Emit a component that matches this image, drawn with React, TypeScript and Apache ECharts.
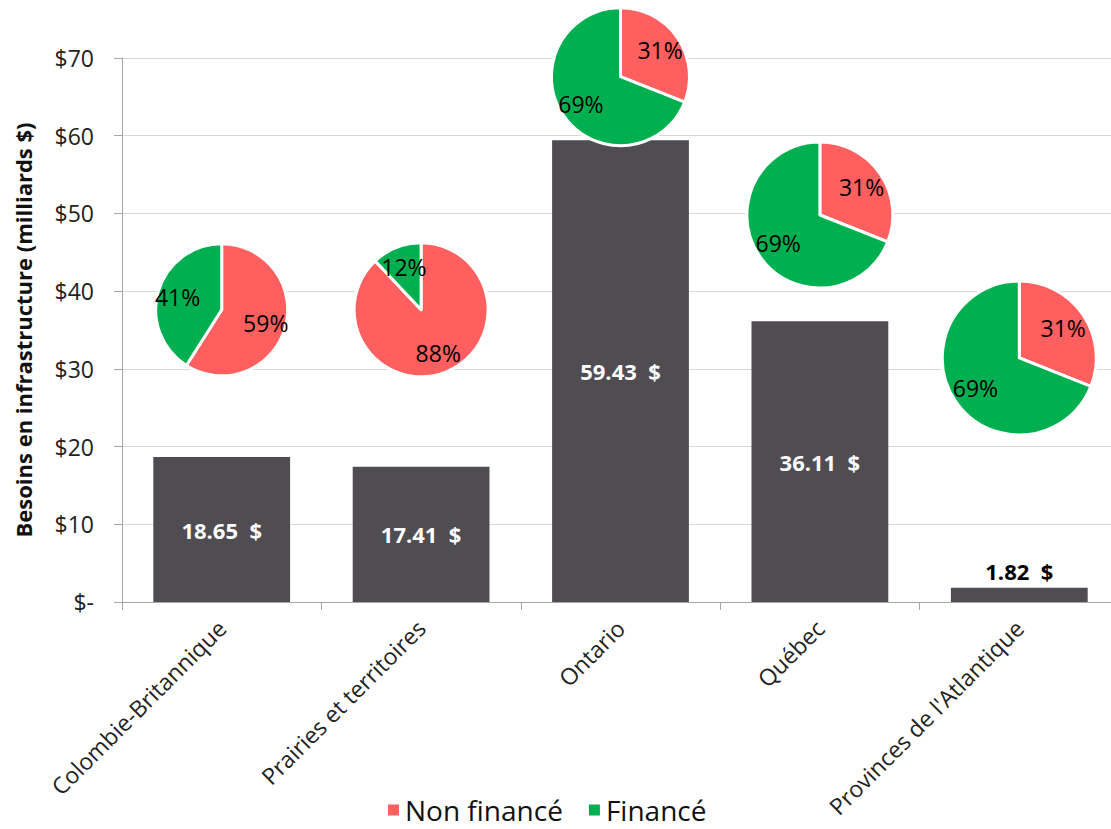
import React, { useEffect, useRef } from "react";
import * as echarts from "echarts";

const categories = [
  "Colombie-Britannique",
  "Prairies et territoires",
  "Ontario",
  "Québec",
  "Provinces de l'Atlantique",
];
const besoins = [18.65, 17.41, 59.43, 36.11, 1.82];
const nonFinance = [59, 88, 31, 31, 31];
const finance = [41, 12, 69, 69, 69];
const yTicks = [0, 10, 20, 30, 40, 50, 60, 70];

// layout only: pie centre height (in axis units) and radius (px)
const pieCenterY = [37.6, 37.6, 67.6, 49.8, 31.4];
const pieRadius = [66, 67, 69, 73, 77];

const RED = "#ff5f5f";
const GREEN = "#00b050";
const BAR = "#4f4d52";
const FONT = "'Open Sans', sans-serif";

export default function App() {
  const ref = useRef<HTMLDivElement>(null);
  useEffect(() => {
    if (!ref.current) return;
    const chart = echarts.init(ref.current, null, { renderer: "svg" });
    const base: any = {
      animation: false,
      textStyle: { fontFamily: FONT },
      grid: { left: 122, top: 58, width: 997, height: 544 },
      legend: {
        bottom: 0,
        left: 381,
        icon: "rect",
        itemWidth: 13,
        itemHeight: 13,
        itemGap: 24,
        data: ["Non financé", "Financé"],
        textStyle: { fontSize: 28, color: "#111", fontFamily: FONT },
      },
      xAxis: {
        type: "category",
        data: categories,
        axisLine: { lineStyle: { color: "#a6a6a6", width: 1 } },
        axisTick: { show: true, length: 8, lineStyle: { color: "#a6a6a6" } },
        axisLabel: {
          rotate: 45,
          margin: 22,
          fontSize: 23,
          color: "#222",
          fontFamily: FONT,
          interval: 0,
        },
      },
      yAxis: {
        type: "value",
        min: yTicks[0],
        max: yTicks[yTicks.length - 1],
        interval: 10,
        name: "Besoins en infrastructure (milliards $)",
        nameLocation: "middle",
        nameGap: 88,
        nameTextStyle: { fontSize: 22, fontWeight: "bold", color: "#111", fontFamily: FONT },
        axisLine: { show: true, lineStyle: { color: "#a6a6a6", width: 1 } },
        axisTick: { show: true, length: 8, lineStyle: { color: "#a6a6a6" } },
        axisLabel: {
          margin: 28,
          fontSize: 23,
          color: "#222",
          fontFamily: FONT,
          formatter: (v: number) => (v === 0 ? "$-" : "$" + v),
        },
        splitLine: { lineStyle: { color: "#d9d9d9", width: 1 } },
      },
      series: [
        {
          type: "bar",
          barWidth: "68.6%",
          itemStyle: { color: BAR },
          data: besoins.map((v, i) => {
            const small = i === besoins.length - 1;
            return {
              value: v,
              label: {
                show: true,
                position: small ? "top" : "inside",
                distance: 6,
                formatter: v.toFixed(2) + "  $",
                color: small ? "#000" : "#fff",
                fontWeight: "bold",
                fontSize: 22,
                fontFamily: FONT,
              },
            };
          }),
        },
      ],
    };
    chart.setOption(base);

    const pies: any[] = [];
    categories.forEach((c, i) => {
      const p = chart.convertToPixel({ gridIndex: 0 } as any, [i, pieCenterY[i]]) as number[];
      const r = pieRadius[i];
      const data = [
        { name: "Non financé", value: nonFinance[i], itemStyle: { color: RED } },
        { name: "Financé", value: finance[i], itemStyle: { color: GREEN } },
      ];
      pies.push({
        type: "pie",
        center: [p[0], p[1]],
        radius: [0, r],
        startAngle: 90,
        clockwise: true,
        z: 5,
        label: { show: false },
        labelLine: { show: false },
        emphasis: { disabled: true },
        itemStyle: { borderColor: "#fff", borderWidth: 3 },
        data,
      });
      pies.push({
        type: "pie",
        center: [p[0], p[1]],
        radius: [r * 0.3, r],
        startAngle: 90,
        clockwise: true,
        z: 6,
        silent: true,
        legendHoverLink: false,
        emphasis: { disabled: true },
        itemStyle: { color: "rgba(0,0,0,0)", borderWidth: 0 },
        label: {
          show: true,
          position: "inside",
          formatter: (d: any) => d.value + "%",
          color: "#000",
          fontSize: 23,
          fontFamily: FONT,
        },
        labelLine: { show: false },
        data: data.map((d) => ({ name: d.name, value: d.value, itemStyle: { color: "rgba(0,0,0,0)" } })),
      });
    });
    chart.setOption({ series: [base.series[0], ...pies] });
    return () => chart.dispose();
  }, []);
  return (
    <div
      ref={ref}
      style={{ position: "fixed", left: 0, top: 0, width: 1120, height: 829, background: "#fff" }}
    />
  );
}
